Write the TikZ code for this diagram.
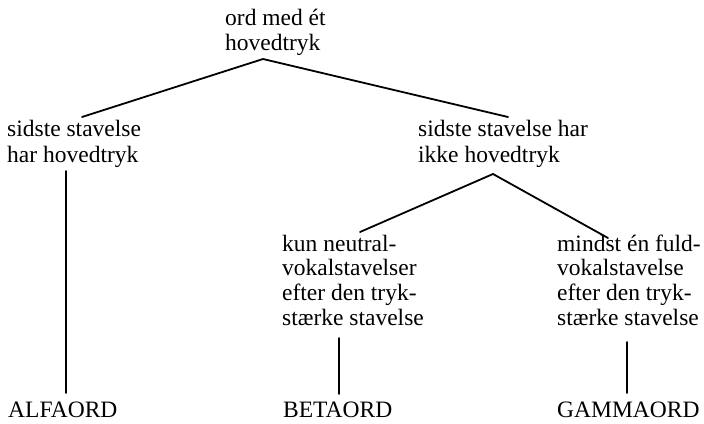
\documentclass[tikz,border=0pt]{standalone}
\usepackage{fontspec}
\setmainfont{Liberation Serif}
\newcommand{\linestack}[2][25]{\vtop{\baselineskip=#1pt\lineskiplimit=-100pt\halign{##\hfil\cr#2\crcr}}}
\tikzset{
  txt/.style={anchor=base west, inner sep=0pt, font=\fontsize{23.5}{25}\selectfont},
  branch/.style={draw=black, line width=1.8pt, line cap=round}
}
\begin{document}
\begin{tikzpicture}[x=1pt, y=-1pt]
\useasboundingbox (0,0) rectangle (704,423);
% text nodes
\node[txt] (root) at (225,25) {\linestack[25]{ord med ét\cr hovedtryk}};
\node[txt] (left) at (7,136) {\linestack[26]{sidste stavelse\cr har hovedtryk}};
\node[txt] (right) at (418,136) {\linestack[26]{sidste stavelse har\cr ikke hovedtryk}};
\node[txt] (neut) at (282,251) {\linestack[24.7]{kun neutral-\cr vokalstavelser\cr efter den tryk-\cr stærke stavelse}};
\node[txt] (fuld) at (557,251) {\linestack[24.7]{mindst én fuld-\cr vokalstavelse\cr efter den tryk-\cr stærke stavelse}};
\node[txt] (alfa) at (8,417) {ALFAORD};
\node[txt] (beta) at (283,417) {BETAORD};
\node[txt] (gamma) at (557,417) {GAMMAORD};
% connector end points
\coordinate (rootA) at (263,59);
\coordinate (leftT) at (82,117);
\coordinate (rightT) at (508,117);
\coordinate (rightA) at (493,174);
\coordinate (neutT) at (360,232);
\coordinate (fuldT) at (608,238);
\coordinate (leftB) at (66,171);
\coordinate (alfaT) at (66,393);
\coordinate (neutB) at (339,338);
\coordinate (betaT) at (339,394);
\coordinate (fuldB) at (627,342);
\coordinate (gammaT) at (627,393);
% connectors
\draw[branch] (leftT) -- (rootA) -- (rightT);
\draw[branch] (neutT) -- (rightA) -- (fuldT);
\draw[branch] (leftB) -- (alfaT);
\draw[branch] (neutB) -- (betaT);
\draw[branch] (fuldB) -- (gammaT);
\end{tikzpicture}
\end{document}
